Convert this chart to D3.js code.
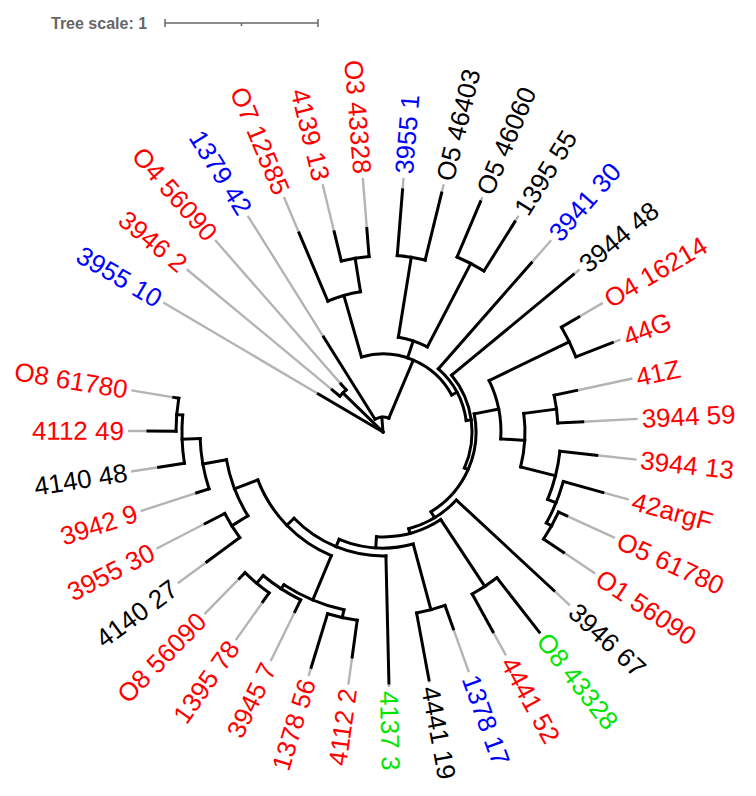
<!DOCTYPE html>
<html><head><meta charset="utf-8">
<script src="https://cdn.jsdelivr.net/npm/d3@7"></script>
<style>body{margin:0;background:#fff}</style>
</head><body>
<svg id="chart" width="756" height="796"></svg>
<script>
// ---- data (tree units; 1 unit = scale bar) ----
const leafNames = ["3955 10","3946 2","O4 56090","1379 42","O7 12585","4139 13","O3 43328","3955 1","O5 46403","O5 46060","1395 55","3941 30","3944 48","O4 16214","44G","41Z","3944 59","3944 13","42argF","O5 61780","O1 56090","3946 67","O8 43328","4441 52","1378 17","4441 19","4137 3","4112 2","1378 56","3945 7","1395 78","O8 56090","4140 27","3955 30","3942 9","4140 48","4112 49","O8 61780"];
const leafGroups = ["blue","red","red","blue","red","red","red","blue","black","black","black","blue","black","red","red","red","red","red","red","red","red","black","green","red","blue","black","green","red","red","red","red","red","black","red","red","black","red","red"];
const leafParents = ["root","A1","A1","R1","cA","A2","A2","N3","N3","N4","N4","X3","X4","N44","N44","N41","N41","P3","P4","P5","P5","X6","K2","K2","K1","K1","X9","B3","B3","B4","B5","B5","Q5","Q5","Q3","Q2","Q1","Q1"];
const leafDepths = [0.490,0.431,0.418,0.732,1.412,1.346,1.333,1.588,1.608,1.634,1.621,1.471,1.614,1.484,1.608,1.294,1.307,1.405,1.490,1.320,1.418,1.523,1.660,1.490,1.366,1.647,1.641,1.484,1.608,1.307,1.359,1.340,1.431,1.307,1.281,1.484,1.536,1.386];
const nodeIds     = ["root","A1","R1","N1","cA","A2","N2","N3","N4","X3","X4","X5","P1","N44","P2","N41","P3","P4","P5","X6","X7","K2","X8","K1","X9","Q6","Q4","Q3","Q2","Q1","Q5","B2","B3","B4","B5"];
const nodeParents = ["","root","root","R1","N1","cA","N1","N2","N2","N1","X3","X4","X5","P1","P1","P2","P2","P3","P4","X5","X6","X7","X7","X8","X8","X9","Q6","Q4","Q3","Q2","Q4","Q6","B2","B2","B4"];
const nodeDepths  = [0,0.366,0.098,0.510,0.928,1.150,0.627,1.157,1.242,0.549,0.582,0.608,0.771,1.353,0.928,1.144,1.163,1.222,1.261,0.654,0.686,1.209,0.758,1.203,0.810,0.876,1.039,1.196,1.314,1.353,1.163,1.190,1.242,1.222,1.288];
const scaleBarValue = 1;
const scaleTicks = [0, 0.5, 1];
const groupColors = {red:"#ff0000", blue:"#0000ff", black:"#000000", green:"#00e600"};

// ---- layout ----
const cx = 383, cy = 432;
const rScale = d3.scaleLinear().domain([0, 1]).range([0, 153]);
const aScale = d3.scaleLinear().domain([0, leafNames.length - 1]).range([-59.5, 279.4]);
const rLabel = 259;

const rows = nodeIds.map((id, i) => ({id, parent: nodeParents[i], depth: nodeDepths[i], leaf: -1}))
  .concat(leafNames.map((id, i) => ({id, parent: leafParents[i], depth: leafDepths[i], leaf: i})));
const root = d3.stratify().id(d => d.id).parentId(d => d.parent || null)(rows);
root.eachAfter(n => {
  if (!n.children) { n.a = aScale(n.data.leaf); n.lo = n.hi = n.a; }
  else {
    n.lo = d3.min(n.children, c => c.a); n.hi = d3.max(n.children, c => c.a);
    n.a = (n.lo + n.hi) / 2;
  }
  n.r = rScale(n.data.depth);
});
const rad = d => d * Math.PI / 180;
const pt = (r, a) => [cx + r * Math.sin(rad(a)), cy - r * Math.cos(rad(a))];

const svg = d3.select("#chart");
const g = svg.append("g");

// gray alignment lines
g.append("g").selectAll("line").data(root.leaves()).join("line")
  .attr("x1", d => pt(d.r, d.a)[0]).attr("y1", d => pt(d.r, d.a)[1])
  .attr("x2", d => pt(rLabel - 4, d.a)[0]).attr("y2", d => pt(rLabel - 4, d.a)[1])
  .attr("stroke", "#b4b4b4").attr("stroke-width", 2.4);

// radial branches
g.append("g").selectAll("line").data(root.descendants().filter(d => d.parent)).join("line")
  .attr("x1", d => pt(d.parent.r, d.a)[0]).attr("y1", d => pt(d.parent.r, d.a)[1])
  .attr("x2", d => pt(d.r, d.a)[0]).attr("y2", d => pt(d.r, d.a)[1])
  .attr("stroke", "#000").attr("stroke-width", 3).attr("stroke-linecap", "square");

// arcs
g.append("g").selectAll("path").data(root.descendants().filter(d => d.children && d.r > 0)).join("path")
  .attr("d", d => {
    const p = d3.path();
    const s = pt(d.r, d.lo);
    p.moveTo(s[0], s[1]);
    p.arc(cx, cy, d.r, rad(d.lo - 90), rad(d.hi - 90), false);
    return p.toString();
  })
  .attr("fill", "none").attr("stroke", "#000").attr("stroke-width", 3).attr("stroke-linecap", "square");

// labels
g.append("g").selectAll("text").data(root.leaves()).join("text")
  .attr("transform", d => {
    const an = ((d.a % 360) + 360) % 360;
    return `translate(${cx},${cy}) rotate(${an - 90}) translate(${rLabel},0)` + (an > 180 ? " rotate(180)" : "");
  })
  .attr("text-anchor", d => { const an = ((d.a % 360) + 360) % 360; return an > 180 ? "end" : "start"; })
  .attr("dy", "0.35em")
  .attr("font-family", "'Liberation Sans', Arial, sans-serif")
  .attr("font-size", 26)
  .attr("fill", d => groupColors[leafGroups[d.data.leaf]])
  .text(d => d.data.id);

// tree scale
const sx = 165, sy = 23;
const sb = svg.append("g").attr("stroke", "#666").attr("stroke-width", 1.5);
sb.append("line").attr("x1", sx).attr("x2", sx + rScale(scaleBarValue)).attr("y1", sy).attr("y2", sy);
sb.selectAll("line.t").data(scaleTicks).join("line").attr("class", "t")
  .attr("x1", d => sx + rScale(d)).attr("x2", d => sx + rScale(d))
  .attr("y1", d => (d === 0.5 ? sy : sy - 4)).attr("y2", d => (d === 0.5 ? sy + 3 : sy + 4));
svg.append("text").attr("x", 51).attr("y", 29)
  .attr("font-family", "'Liberation Sans', Arial, sans-serif").attr("font-weight", "bold")
  .attr("font-size", 16).attr("fill", "#666").text("Tree scale: " + scaleBarValue);
</script>
</body></html>
